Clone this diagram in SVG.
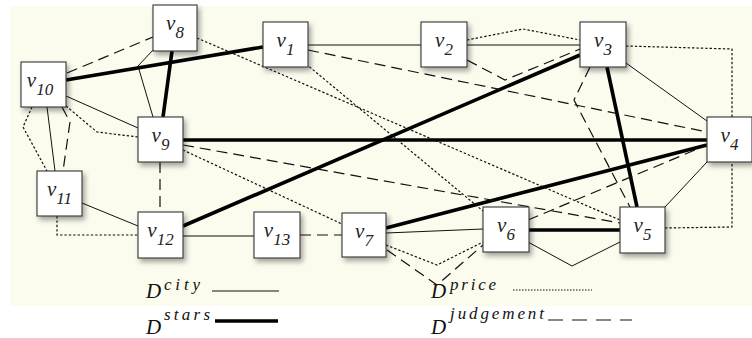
<svg xmlns="http://www.w3.org/2000/svg" width="752" height="338" viewBox="0 0 752 338">
<defs>
<filter id="sh" x="-20%" y="-20%" width="150%" height="150%">
<feDropShadow dx="2.5" dy="3.5" stdDeviation="2.5" flood-color="#000" flood-opacity="0.35"/>
</filter>
<style>
.c{fill:none;stroke:#111;stroke-width:1}
.s{fill:none;stroke:#000;stroke-width:3.6}
.p{fill:none;stroke:#111;stroke-width:1.2;stroke-dasharray:2.4 2}
.j{fill:none;stroke:#111;stroke-width:1.2;stroke-dasharray:11 6}
.box{fill:#fff;stroke:#333;stroke-width:1.1;filter:url(#sh)}
.lb{font-family:"Liberation Serif","DejaVu Serif",serif;font-style:italic;font-size:21px;fill:#222;text-anchor:middle}
.sub{font-size:17px}
.lg{font-family:"Liberation Serif","DejaVu Serif",serif;font-style:italic;fill:#111}
</style>
</defs>
<rect width="752" height="338" fill="#fff"/>
<rect x="10" y="6" width="742" height="300" fill="#fbfbee"/>
<g id="connectors">
<path class="c" d="M308,45 L421,45"/>
<path class="c" d="M467,45 L580,45"/>
<path class="c" d="M626,63 L707,121"/>
<path class="c" d="M707,162 L665,207"/>
<path class="c" d="M528,242 L572,266 L620,242"/>
<path class="c" d="M386,233 L483,229"/>
<path class="c" d="M183,236 L254,236"/>
<path class="c" d="M82,203 L138,226"/>
<path class="c" d="M47,107 L55,171"/>
<path class="c" d="M66,96 L138,128"/>
<path class="c" d="M153,50 L138,66 L153,117"/>
<path class="s" d="M66,80 L263,47"/>
<path class="s" d="M172,51 L163,117"/>
<path class="s" d="M183,140 L707,140"/>
<path class="s" d="M183,226 L580,55"/>
<path class="s" d="M386,228 L707,145"/>
<path class="s" d="M529,230 L620,230"/>
<path class="s" d="M607,67 L637,207"/>
<path class="p" d="M32,107 L23,127 L47,171"/>
<path class="p" d="M66,106 L97,132 L138,137"/>
<path class="p" d="M57,216 L57,235 L138,235"/>
<path class="p" d="M197,38 L620,220"/>
<path class="p" d="M306,64 L483,211"/>
<path class="p" d="M183,150 L342,224"/>
<path class="p" d="M467,40 L523,29 L580,40"/>
<path class="p" d="M626,46 L732,49 L732,117"/>
<path class="p" d="M665,228 L732,227 L732,162"/>
<path class="p" d="M386,245 L437,265 L483,242"/>
<path class="j" d="M67,73 L153,37"/>
<path class="j" d="M62,107 L70,122 L63,171"/>
<path class="j" d="M160,162 L160,212"/>
<path class="j" d="M308,50 L707,132"/>
<path class="j" d="M467,60 L505,80 L580,49"/>
<path class="j" d="M590,67 L574,100 L630,207"/>
<path class="j" d="M183,145 L620,223"/>
<path class="j" d="M528,220 L707,145"/>
<path class="j" d="M300,235 L342,235"/>
<path class="j" d="M387,250 L437,285 L483,245"/>
</g>
<g id="v1"><rect class="box" x="263" y="22" width="45" height="45"/><text class="lb" x="285.5" y="47">v<tspan class="sub" dy="8">1</tspan></text></g>
<g id="v2"><rect class="box" x="421" y="22" width="46" height="45"/><text class="lb" x="444" y="47">v<tspan class="sub" dy="8">2</tspan></text></g>
<g id="v3"><rect class="box" x="580" y="22" width="46" height="45"/><text class="lb" x="603" y="47">v<tspan class="sub" dy="8">3</tspan></text></g>
<g id="v4"><rect class="box" x="707" y="117" width="45" height="45"/><text class="lb" x="729.5" y="142">v<tspan class="sub" dy="8">4</tspan></text></g>
<g id="v5"><rect class="box" x="620" y="207" width="45" height="46"/><text class="lb" x="642.5" y="232">v<tspan class="sub" dy="8">5</tspan></text></g>
<g id="v6"><rect class="box" x="483" y="207" width="46" height="45"/><text class="lb" x="506" y="232">v<tspan class="sub" dy="8">6</tspan></text></g>
<g id="v7"><rect class="box" x="342" y="213" width="44" height="44"/><text class="lb" x="364" y="238">v<tspan class="sub" dy="8">7</tspan></text></g>
<g id="v8"><rect class="box" x="153" y="5" width="44" height="46"/><text class="lb" x="175" y="30">v<tspan class="sub" dy="8">8</tspan></text></g>
<g id="v9"><rect class="box" x="138" y="117" width="45" height="45"/><text class="lb" x="160.5" y="142">v<tspan class="sub" dy="8">9</tspan></text></g>
<g id="v10"><rect class="box" x="21" y="62" width="45" height="45"/><text class="lb" x="40" y="87">v<tspan class="sub" dy="8">10</tspan></text></g>
<g id="v11"><rect class="box" x="37" y="171" width="45" height="45"/><text class="lb" x="59.5" y="196">v<tspan class="sub" dy="8">11</tspan></text></g>
<g id="v12"><rect class="box" x="138" y="212" width="45" height="46"/><text class="lb" x="160.5" y="237">v<tspan class="sub" dy="8">12</tspan></text></g>
<g id="v13"><rect class="box" x="254" y="212" width="46" height="46"/><text class="lb" x="277" y="237">v<tspan class="sub" dy="8">13</tspan></text></g>
<g id="legend">
<text class="lg" x="146" y="298" font-size="21">D</text>
<text class="lg" x="164" y="290" font-size="17" textLength="36" lengthAdjust="spacing">city</text>
<path class="c" d="M212,291 L279,291"/>
<text class="lg" x="146" y="334" font-size="21">D</text>
<text class="lg" x="164" y="320" font-size="17" textLength="46" lengthAdjust="spacing">stars</text>
<path class="s" d="M215,321 L278,321"/>
<text class="lg" x="431" y="298" font-size="21">D</text>
<text class="lg" x="450" y="290" font-size="17" textLength="46" lengthAdjust="spacing">price</text>
<path fill="none" stroke="#111" stroke-width="1" stroke-dasharray="1.5 1.5" d="M513,290 L592,290"/>
<text class="lg" x="431" y="334" font-size="21">D</text>
<text class="lg" x="450" y="319" font-size="17" textLength="94" lengthAdjust="spacing">judgement</text>
<path fill="none" stroke="#111" stroke-width="1.2" stroke-dasharray="15 9" d="M548,320 L632,320"/>
</g>
</svg>
